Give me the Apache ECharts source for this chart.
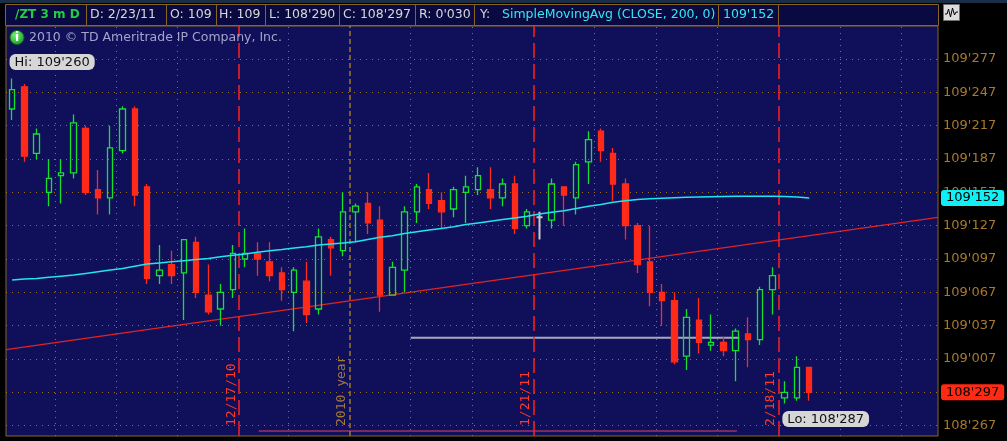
<!DOCTYPE html>
<html><head><meta charset="utf-8">
<script src="https://cdn.jsdelivr.net/npm/echarts@6/dist/echarts.min.js"></script>
<style>html,body{margin:0;padding:0;background:#000;overflow:hidden}#c{width:1007px;height:441px}</style>
</head><body><div id="c"></div>
<script>
// ---------- DATA (prices in 32nds above 108, e.g. 58.0 = 109'260) ----------
const dates = ['11/23/10','11/24/10','11/25/10','11/26/10',
 '11/29/10','11/30/10','12/1/10','12/2/10','12/3/10',
 '12/6/10','12/7/10','12/8/10','12/9/10','12/10/10',
 '12/13/10','12/14/10','12/15/10','12/16/10','12/17/10',
 '12/20/10','12/21/10','12/22/10','12/23/10',
 '12/27/10','12/28/10','12/29/10','12/30/10','12/31/10',
 '1/3/11','1/4/11','1/5/11','1/6/11','1/7/11',
 '1/10/11','1/11/11','1/12/11','1/13/11','1/14/11',
 '1/17/11','1/18/11','1/19/11','1/20/11','1/21/11',
 '1/24/11','1/25/11','1/26/11','1/27/11','1/28/11',
 '1/31/11','2/1/11','2/2/11','2/3/11','2/4/11',
 '2/7/11','2/8/11','2/9/11','2/10/11','2/11/11',
 '2/14/11','2/15/11','2/16/11','2/17/11','2/18/11',
 '2/21/11','2/22/11','2/23/11',
 '2/24/11','2/25/11','2/28/11','3/1/11','3/2/11','3/3/11','3/4/11','3/7/11','3/8/11','3/9/11'];
const openP  = [55.25,57.25,51.25,47.75,49.25,49.5,53.5,48.0,47.25,51.5,
 55.25,48.25,40.25,41.25,40.5,43.25,38.5,37.25,39.0,41.75,
 42.25,41.5,40.5,38.75,39.75,37.25,43.5,42.5,46.0,46.75,
 45.25,38.5,40.75,46.0,48.0,47.0,46.25,47.75,48.0,48.0,
 47.25,48.5,44.75,45.5,45.25,48.25,47.25,50.5,53.25,51.25,
 48.5,44.75,41.5,38.75,38.0,33.0,36.25,34.0,34.25,33.5,
 35.0,34.5,39.0,29.25,29.25,32.0];
const closeP = [57.0,51.0,53.0,49.0,49.5,54.0,47.75,47.25,51.75,55.25,
 47.5,40.0,40.75,40.25,43.5,38.75,37.0,38.75,42.25,42.25,
 41.75,40.25,39.0,40.75,36.75,43.75,42.75,46.0,46.5,45.0,
 38.5,41.0,46.0,48.25,46.75,46.0,48.0,48.25,49.25,47.25,
 48.5,44.5,46.0,45.5,48.5,47.5,50.25,52.5,51.5,48.5,
 44.75,41.25,38.75,38.0,32.5,36.5,34.25,34.25,33.5,35.25,
 34.5,39.0,40.25,29.75,32.0,29.75];
const highP  = [58.0,57.5,53.5,50.75,50.75,54.75,53.75,49.75,53.75,55.5,
 55.5,48.5,43.0,42.5,43.5,43.75,41.25,39.5,43.0,44.5,
 43.25,43.25,41.0,41.0,41.5,44.5,43.75,47.75,46.75,47.75,
 46.5,41.5,46.5,48.5,49.5,47.75,48.25,49.25,50.0,50.0,
 49.0,49.25,46.25,46.0,49.0,48.25,50.5,53.25,53.5,51.75,
 49.0,45.0,44.75,39.5,38.75,37.25,38.25,36.75,34.75,35.5,
 36.5,39.25,41.0,30.75,33.0,32.0];
const lowP   = [54.25,50.5,50.75,46.5,46.75,49.0,47.5,45.75,45.75,51.25,
 46.5,39.5,39.5,39.5,36.25,38.25,36.75,35.75,38.25,41.0,
 40.25,39.75,38.0,35.25,36.0,36.75,40.25,42.0,43.25,44.0,
 37.0,38.5,38.75,45.0,46.25,44.5,45.5,45.0,47.5,46.25,
 46.5,44.0,44.5,43.5,44.5,44.75,45.75,48.5,50.5,47.0,
 43.5,40.5,37.5,35.75,32.25,31.75,33.25,33.5,33.0,30.75,
 32.0,34.0,36.75,28.75,29.0,29.0];
const sma200 = [39.85,39.95,40.0,40.1,40.2,40.3,40.45,40.6,40.75,40.9,
 41.1,41.3,41.4,41.5,41.6,41.7,41.8,41.95,42.08,42.2,
 42.35,42.5,42.6,42.75,42.86,43.0,43.1,43.2,43.3,43.5,
 43.7,43.85,44.05,44.2,44.35,44.5,44.65,44.85,45.0,45.15,
 45.3,45.45,45.6,45.8,45.95,46.1,46.3,46.5,46.65,46.85,
 47.0,47.1,47.17,47.22,47.26,47.3,47.33,47.35,47.37,47.39,
 47.4,47.4,47.4,47.38,47.33,47.25];
const yTickLabels = ["109'277","109'247","109'217","109'187","109'157","109'127",
 "109'097","109'067","109'037","109'007","108'297","108'267"];
const expirations = ['12/17/10','1/21/11','2/18/11'];
const yearLabel = '2010 year';
const trendX = [-0.5, 75.5], trendY = [33.6, 45.5];      // red trendline anchors
const levelX = [32.5, 59.3], levelY = 34.67;             // gray level line
const baseX  = [20.1, 59.1], baseY  = 26.27;             // bottom red line
const headerTexts = ['/ZT 3 m D','D: 2/23/11','O: 109','H: 109',"L: 108'290","C: 108'297","R: 0'030",
 'Y:', 'SimpleMovingAvg (CLOSE, 200, 0)', "109'152"];
const copyright = '2010 \u00a9 TD Ameritrade IP Company, Inc.';

// ---------- helpers ----------
function fmt(v){
  const t = Math.round(v*4);
  const whole = 108 + Math.floor(t/128);
  const rem = t - Math.floor(t/128)*128;
  const th = Math.floor(rem/4), q = rem % 4;
  return whole + "'" + String(th).padStart(2,'0') + ['0','2','5','7'][q];
}
function parseQuote(s){
  const [w,f] = s.split("'");
  return (Number(w)-108)*32 + Number(f.slice(0,2)) + ({'0':0,'2':0.25,'5':0.5,'7':0.75})[f[2]];
}
const wd = dates.map(s=>{const [m,d,y]=s.split('/').map(Number);return new Date(2000+y,m-1,d).getDay();});
const expIdx = expirations.map(s=>dates.indexOf(s)+0.5);
const yearIdx = dates.findIndex(s=>s.endsWith('/11')) - 0.5;
const weekIdx = [];
for(let i=1;i<dates.length;i++) if(wd[i]<wd[i-1]) weekIdx.push(i-0.5);

const GRIDC = '#a0701e', TXT = '#a8782c', RED = '#ff2a1a', GREEN = '#14e030';
const N = openP.length;
const candles = [];
for(let i=0;i<N;i++){
  const it = {value:[openP[i],closeP[i],lowP[i],highP[i]]};
  if(openP[i]===closeP[i]) it.itemStyle = {color:'#c8c8c8',color0:'#c8c8c8',borderColor:'#c8c8c8',borderColor0:'#c8c8c8',borderWidth:2};
  candles.push(it);
}

// grid lines (markLine)
const gridML = [];
yTickLabels.forEach(l=>gridML.push({yAxis:parseQuote(l),
  lineStyle:{color:GRIDC,type:[1,5],width:1},
  label:{show:true,position:'end',formatter:l,color:TXT,fontSize:13,fontFamily:'DejaVu Sans',distance:5}}));
weekIdx.filter(v=>!expIdx.includes(v) && v!==yearIdx).forEach(v=>gridML.push({xAxis:v,
  lineStyle:{color:GRIDC,type:[1,5],width:1},label:{show:false}}));
gridML.push({xAxis:yearIdx,lineStyle:{color:'#a47828',type:[5,3],width:1.5},
  label:{show:true,formatter:yearLabel,position:'insideStartTop',color:'#a07a3a',fontSize:13,fontFamily:'DejaVu Sans Mono',distance:[10,1]}});
expIdx.forEach((v,k)=>gridML.push({xAxis:v,lineStyle:{color:'#ff2020',type:[15,6],width:1.5},
  label:{show:true,formatter:expirations[k],position:'insideStartTop',color:'#ff3a2a',fontSize:13,fontFamily:'DejaVu Sans Mono',distance:[10,1]}}));

// header graphics
const boxEdges = [5,86,166,216,265,339,415,474,718,778,938];
const hdrX = [15,90,170,219,269,343,419,480,502,723];
const hdrColors = ['#22cc44','#d6d6d6','#d6d6d6','#d6d6d6','#d6d6d6','#d6d6d6','#d6d6d6','#d6d6d6','#34e8f0','#34e8f0'];
const graphics = [{type:'rect',shape:{x:0,y:0,width:1007,height:3},style:{fill:'#1a2e48'},silent:true}];
for(let i=0;i<boxEdges.length-1;i++){
  graphics.push({type:'rect',shape:{x:boxEdges[i]+0.5,y:4.5,width:boxEdges[i+1]-boxEdges[i],height:21},
    style:{fill:'#0a0a42',stroke:'#8a6420',lineWidth:1},silent:true,z:10});
}
headerTexts.forEach((t,i)=>graphics.push({type:'text',x:hdrX[i],y:15,z:11,silent:true,
    style:{text:t,fill:hdrColors[i],font:(i===0?'bold 12px':'12.5px')+' "DejaVu Sans"',verticalAlign:'middle',textAlign:'left'}}));
graphics.push({type:'circle',shape:{cx:17,cy:37.5,r:7},style:{fill:new echarts.graphic.RadialGradient(0.4,0.35,0.7,[{offset:0,color:'#7af07a'},{offset:1,color:'#139a20'}]),stroke:'#0d6a14',lineWidth:1},z:11,silent:true});
graphics.push({type:'text',x:17,y:38,z:12,silent:true,style:{text:'i',fill:'#fff',font:'bold 12px "DejaVu Sans"',textAlign:'center',verticalAlign:'middle'}});
graphics.push({type:'text',x:29,y:38,z:11,silent:true,style:{text:copyright,fill:'#a4a4cc',font:'12.5px "DejaVu Sans"',textAlign:'left',verticalAlign:'middle'}});
graphics.push({type:'rect',shape:{x:943.5,y:4.5,width:16,height:16},style:{fill:'#dcdcdc',stroke:'#707070',lineWidth:1},z:11,silent:true});
graphics.push({type:'polyline',shape:{points:[[945,14],[947,14],[948.5,9],[950.5,17],[952.5,8],[954.5,15],[956,12],[958,12]]},style:{stroke:'#000',lineWidth:1,fill:null},z:12,silent:true});

const tagLabel = (bg)=>({show:true,position:'end',distance:3,formatter:p=>fmt(p.value),backgroundColor:bg,color:'#000',
  padding:[2,5,1,5],borderRadius:3,fontSize:13,fontFamily:'DejaVu Sans'});
const hiddenLine = {color:'rgba(0,0,0,0)',width:1,type:'solid'};

const option = {
  backgroundColor:'#000',
  animation:false,
  graphic:graphics,
  grid:{left:6,right:69,top:26,bottom:5,show:true,backgroundColor:'#10105a',borderColor:'#8a6420',borderWidth:1},
  xAxis:[
    {type:'category',data:dates,boundaryGap:true,show:false},
    {type:'value',min:-0.5,max:75.5,show:false}
  ],
  yAxis:{type:'value',min:25.82,max:62.72,show:false,splitLine:{show:false}},
  series:[
    {type:'line',name:'base',xAxisIndex:1,z:1,symbol:'none',silent:true,
     data:[[baseX[0],baseY],[baseX[1],baseY]],lineStyle:{color:'#e0406a',width:1},
     markLine:{silent:true,symbol:['none','none'],animation:false,data:gridML}},
    {type:'line',name:'trend',xAxisIndex:1,z:2,symbol:'none',silent:true,
     data:[[trendX[0],trendY[0]],[trendX[1],trendY[1]]],lineStyle:{color:'#e02424',width:1.2}},
    {type:'line',name:'level',xAxisIndex:1,z:2,symbol:'none',silent:true,
     data:[[levelX[0],levelY],[levelX[1],levelY]],lineStyle:{color:'#a8a8bc',width:2}},
    {type:'candlestick',name:'ZT',z:5,barWidth:6,data:candles,
     itemStyle:{color:'rgba(0,0,0,0)',color0:RED,borderColor:GREEN,borderColor0:RED,borderWidth:1.3},
     markPoint:{symbol:'rect',symbolSize:1,itemStyle:{color:'rgba(0,0,0,0)'},animation:false,
       data:[
        {type:'max',valueDim:'highest',name:'Hi',label:{show:true,position:'top',distance:4,offset:[40,-4],formatter:p=>'Hi: '+fmt(p.value),
          backgroundColor:'#d6d6d6',color:'#111',padding:[2,5,1,5],borderRadius:6,fontSize:13,fontFamily:'DejaVu Sans'}},
        {type:'min',valueDim:'lowest',name:'Lo',label:{show:true,position:'bottom',distance:4,offset:[41,3],formatter:p=>'Lo: '+fmt(p.value),
          backgroundColor:'#d6d6d6',color:'#111',padding:[2,5,1,5],borderRadius:6,fontSize:13,fontFamily:'DejaVu Sans'}}
       ]},
     markLine:{silent:true,symbol:['none','none'],animation:false,
       data:[{yAxis:closeP[N-1],lineStyle:hiddenLine,label:tagLabel('#ff2a14')}]}},
    {type:'line',name:'SMA',z:6,symbol:'none',silent:true,data:sma200,
     lineStyle:{color:'#22e4ee',width:1.5},
     markLine:{silent:true,symbol:['none','none'],animation:false,
       data:[{yAxis:sma200[N-1],lineStyle:hiddenLine,label:tagLabel('#10f0f4')}]}}
  ]
};
const chart = echarts.init(document.getElementById('c'));
chart.setOption(option);
</script></body></html>
